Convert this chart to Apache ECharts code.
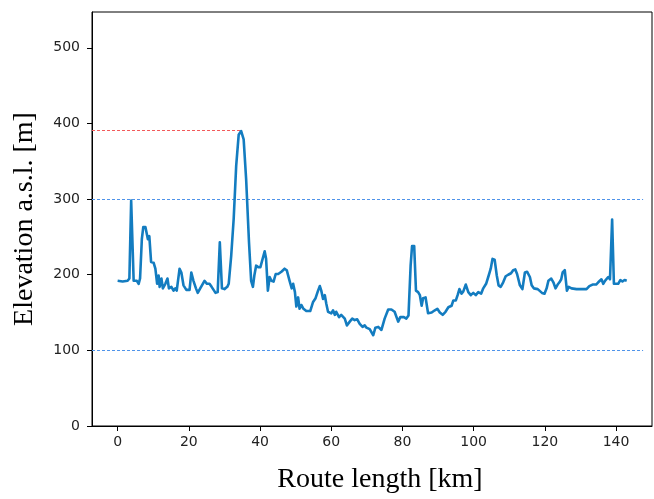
<!DOCTYPE html>
<html>
<head>
<meta charset="utf-8">
<script src="https://cdn.jsdelivr.net/npm/echarts@6/dist/echarts.min.js"></script>
<style>
  html, body { margin: 0; padding: 0; background: #fff; }
  #chart { width: 654px; height: 499px; }
</style>
</head>
<body>
<div id="chart"></div>
<script>
// Route profile: distance along the route [km] and elevation above sea level [m]
const routeKm = [
  0.0, 0.5, 1.4, 2.8, 3.3, 3.8, 4.5, 5.0, 5.4, 5.9, 6.3, 6.8, 7.2, 7.8, 8.2, 8.5, 8.9, 9.4, 10.1, 10.6,
  11.1, 11.5, 11.8, 12.3, 12.7, 13.4, 14.0, 14.4, 15.1, 15.7, 16.2, 16.6, 17.4, 17.9, 18.5, 19.3, 20.2, 20.7, 21.3, 22.0,
  22.5, 23.2, 24.4, 25.1, 25.8, 26.4, 26.9, 27.5, 28.1, 28.7, 29.3, 30.0, 30.8, 31.2, 31.9, 32.6, 33.3, 34.0, 34.7, 35.4,
  36.1, 36.9, 37.5, 38.0, 38.4, 38.9, 39.5, 40.1, 40.5, 41.3, 41.7, 42.2, 42.7, 43.2, 43.8, 44.4, 45.1, 46.0, 46.9, 47.5,
  48.3, 48.9, 49.3, 49.8, 50.2, 50.7, 51.1, 51.6, 52.2, 53.0, 54.1, 54.9, 55.6, 56.3, 56.8, 57.2, 57.7, 58.2, 58.6, 59.1,
  59.6, 60.0, 60.5, 61.0, 61.4, 62.2, 62.8, 63.8, 64.4, 65.2, 65.9, 66.6, 67.3, 68.0, 68.8, 69.4, 69.9, 70.4, 70.8, 71.3,
  71.8, 72.4, 73.2, 73.6, 74.1, 75.0, 76.0, 76.9, 77.8, 78.8, 79.4, 80.4, 81.1, 81.7, 82.3, 82.7, 83.3, 83.8, 84.4, 84.9,
  85.4, 85.8, 86.5, 87.2, 88.2, 89.1, 89.8, 90.5, 91.3, 92.1, 92.9, 93.8, 94.3, 95.0, 95.5, 96.0, 96.6, 97.1, 97.8, 98.5,
  99.2, 99.9, 100.6, 101.3, 102.1, 102.7, 103.5, 104.1, 104.8, 105.3, 105.9, 106.5, 107.0, 107.6, 108.3, 109.0, 109.7, 110.5, 111.1, 111.7,
  112.2, 113.0, 113.7, 114.4, 115.0, 115.8, 116.3, 116.9, 117.4, 118.0, 118.5, 119.2, 119.9, 120.5, 121.0, 121.8, 122.4, 123.0, 123.6, 124.1,
  124.6, 125.0, 125.6, 126.2, 126.7, 127.5, 128.9, 130.8, 131.7, 132.5, 133.4, 134.4, 135.0, 135.5, 135.9, 136.4, 136.9, 137.4, 137.8, 138.3,
  138.9, 139.4, 139.9, 140.6, 141.2, 141.8, 142.4, 143.0
];
const elevationM = [
  192, 190, 191, 192, 195, 298, 192, 190, 192, 188, 195, 247, 263, 263, 254, 247, 251, 217, 216, 208,
  188, 199, 184, 195, 182, 188, 195, 182, 184, 179, 182, 179, 208, 203, 186, 180, 180, 203, 192, 182,
  176, 182, 192, 188, 188, 184, 182, 176, 177, 243, 182, 181, 184, 188, 225, 274, 344, 385, 390, 379,
  326, 243, 192, 184, 199, 212, 210, 210, 217, 231, 221, 179, 197, 192, 191, 201, 201, 204, 208, 206,
  192, 182, 188, 177, 158, 170, 155, 160, 155, 152, 152, 164, 169, 179, 185, 179, 168, 173, 162, 151,
  153, 149, 153, 147, 151, 144, 147, 142, 133, 138, 142, 140, 141, 135, 131, 133, 130, 132, 128, 129,
  120, 130, 131, 129, 127, 142, 154, 154, 151, 138, 144, 144, 142, 146, 212, 238, 238, 179, 177, 173,
  159, 169, 170, 149, 150, 153, 155, 150, 147, 151, 157, 159, 166, 166, 173, 181, 175, 178, 187, 177,
  173, 176, 173, 177, 175, 182, 188, 197, 208, 221, 220, 199, 186, 184, 190, 198, 200, 202, 206, 207,
  201, 186, 181, 203, 204, 197, 186, 182, 184, 181, 182, 176, 175, 182, 192, 195, 190, 182, 187, 190,
  194, 203, 206, 179, 184, 182, 181, 181, 181, 185, 187, 187, 190, 189, 194, 188, 192, 190, 197, 194,
  273, 188, 190, 188, 193, 191, 193, 192
];

// Reference levels: band limits and the highest point
const bandLevels = [100, 300];
const bandSpanKm = [-7.2, 147.6];
const peakLevel = 391;
const peakSpanKm = [-7.2, 34.7];

// Axis ranges and tick labels
const xRange = [-7.2, 150.1];
const yRange = [0, 547.4];
const xTicks = [0, 20, 40, 60, 80, 100, 120, 140];
const yTicks = [0, 100, 200, 300, 400, 500];

const chart = echarts.init(document.getElementById('chart'), null, { renderer: 'canvas' });

const tickFont = { fontFamily: "'DejaVu Sans', sans-serif", fontSize: 14, color: '#222' };
const titleFont = { fontFamily: "'Liberation Serif', serif", fontSize: 28, color: '#000' };

// Horizontal dashed guides drawn as mark lines between two data coordinates
const guide = (level, span, color) => [
  { coord: [span[0], level], lineStyle: { color: color, width: 1, type: [3, 2] } },
  { coord: [span[1], level] }
];
const guideLines = bandLevels.map(level => guide(level, bandSpanKm, '#4f93ea'))
  .concat([guide(peakLevel, peakSpanKm, '#f25a5a')]);

chart.setOption({
  animation: false,
  backgroundColor: '#fff',
  grid: {
    left: 92, right: 2, top: 12, bottom: 71,
    show: true, borderColor: '#000', borderWidth: 1, backgroundColor: 'transparent'
  },
  xAxis: {
    type: 'value',
    min: xRange[0], max: xRange[1],
    name: 'Route length [km]',
    nameLocation: 'middle',
    nameGap: 40,
    nameTextStyle: Object.assign({ padding: [0, 0, 0, 16] }, titleFont),
    axisLine: { show: true, onZero: false, lineStyle: { color: '#000', width: 1 } },
    axisTick: { show: true, customValues: xTicks, length: 5, lineStyle: { color: '#000' } },
    axisLabel: Object.assign({ customValues: xTicks, margin: 9 }, tickFont),
    splitLine: { show: false }
  },
  yAxis: {
    type: 'value',
    min: yRange[0], max: yRange[1],
    name: 'Elevation a.s.l. [m]',
    nameLocation: 'middle',
    nameGap: 53,
    nameTextStyle: titleFont,
    axisLine: { show: true, onZero: false, lineStyle: { color: '#000', width: 1 } },
    axisTick: { show: true, customValues: yTicks, length: 5, lineStyle: { color: '#000' } },
    axisLabel: Object.assign({ customValues: yTicks, margin: 12 }, tickFont),
    splitLine: { show: false }
  },
  series: [{
    type: 'line',
    data: routeKm.map((x, i) => [x, elevationM[i]]),
    symbol: 'none',
    lineStyle: { color: '#137cc0', width: 2.6, join: 'round' },
    z: 3,
    markLine: {
      silent: true,
      symbol: ['none', 'none'],
      label: { show: false },
      z: 1,
      data: guideLines
    }
  }]
});
</script>
</body>
</html>
